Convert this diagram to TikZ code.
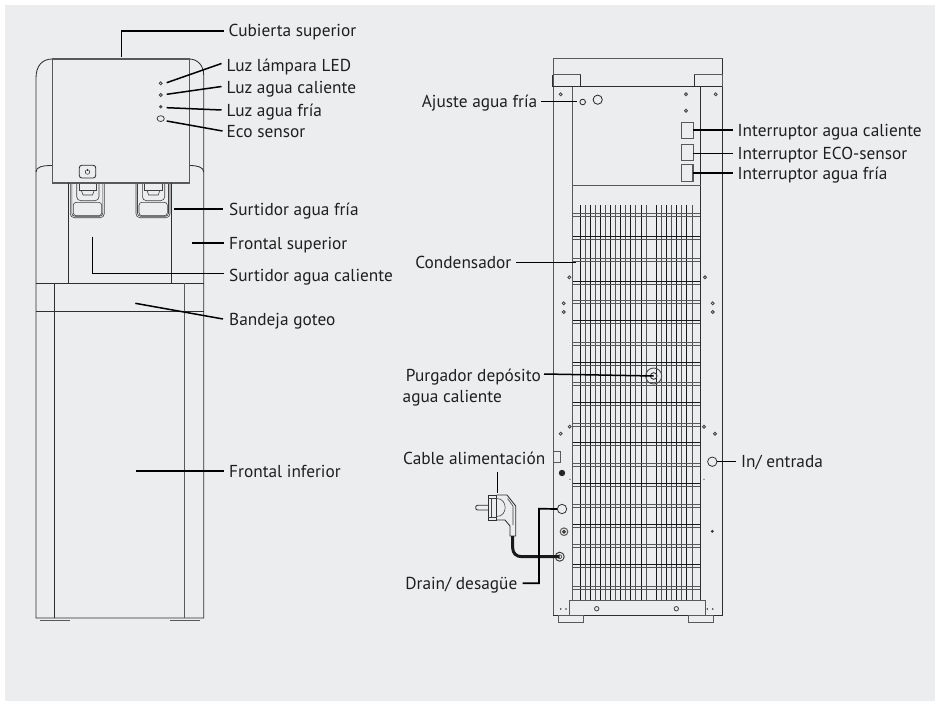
\documentclass[tikz,border=0pt]{standalone}
\usepackage{fontspec}
\setmainfont{PT Sans}
\definecolor{bg}{RGB}{236,237,239}
\tikzset{
  ln/.style={draw=black!82,line width=0.85pt},
  thin ln/.style={draw=black!75,line width=0.6pt},
  gl/.style={draw=black!65,line width=1pt},
  leader/.style={draw=black,line width=1.5pt},
  captxt/.style={inner sep=0pt,font=\fontsize{17.3}{20}\selectfont,text=black!88,text height=15pt,text depth=3pt},
  capl/.style={captxt,anchor=west},
  capr/.style={captxt,anchor=east},
  screw/.style={draw=black!75,line width=0.8pt},
  dot/.style={fill=black!80,draw=none}
}
\newcommand{\spoutpart}{%
  \draw[thin ln,rounded corners=4pt] (70.3,183)--(70.3,217.7)--(104.3,217.7)--(104.3,183);
  \draw[thin ln,rounded corners=3pt] (71.8,183)--(71.8,216.2)--(102.8,216.2)--(102.8,183);
  \draw[thin ln,rounded corners=3pt] (73.3,202.3) rectangle (101.7,215.7);
  \draw[thin ln,rounded corners=4pt] (76.7,183)--(76.7,200.7)--(99,200.7)--(99,183);
  \draw[thin ln] (79,183)--(79,190)--(96.7,190)--(96.7,183);
  \draw[thin ln] (81.5,191)--(83,195)--(92.5,195)--(94,191);
}
\begin{document}
\begin{tikzpicture}[x=1pt,y=-1pt]
\useasboundingbox (0,0) rectangle (940,701);
\fill[white] (0,0) rectangle (940,701);
\fill[bg] (5,5) rectangle (935,701);

% ---------- front view ----------
\draw[ln] (36,283)--(36,78) .. controls (36,66) and (42,59) .. (52.3,59);
\draw[ln] (189.3,59) .. controls (197,59) and (203.7,65) .. (203.7,75)--(203.7,618)--(36,618)--(36,283);
\draw[ln] (36,172) .. controls (36,167) and (42,165.5) .. (52.3,165.5);
\draw[ln] (189.3,165.5) .. controls (197,165.5) and (203.7,167) .. (203.7,172);
\spoutpart
\begin{scope}[xshift=65.7pt]\spoutpart\end{scope}
\draw[gl,fill=bg,line width=1.1pt] (52.3,59) rectangle (189.3,183);
\draw[ln] (68.7,183)--(68.7,283) (171.3,183)--(171.3,283);
\draw[ln] (36,283)--(203.7,283) (36,311.3)--(203.7,311.3);
\draw[ln] (54.3,283)--(54.3,618);
\draw[gl] (184.7,283)--(184.7,618);
\draw[gl,line width=1.2pt] (40,620.3)--(70,620.3) (169.5,620.3)--(199.5,620.3);
\draw[ln,rounded corners=2.5pt] (79.3,165.3) rectangle (95.7,178);
\draw[ln,line width=0.5pt] (87.5,172) circle (2.3);
\draw[ln,line width=0.5pt] (87.5,168.5)--(87.5,171);
\draw[screw] (160.7,83.3) circle (1.5) (160.7,95) circle (1.5);
\fill[black!70] (160.7,106.8) circle (1.9);
\draw[screw] (160.7,118.6) ellipse (3.6 and 2.9);

\coordinate (a1) at (121.3,56.7);
\coordinate (a1b) at (121.3,31);
\coordinate (a2) at (166.7,82.7);
\coordinate (a3) at (166.7,94.3);
\coordinate (a4) at (166.7,107.7);
\coordinate (a5) at (166.7,121);
\coordinate (a6) at (174,209);
\coordinate (a7) at (191.7,243);
\coordinate (a8) at (92.3,236.7);
\coordinate (a8b) at (92.3,273.3);
\coordinate (a9) at (135.3,303.3);
\coordinate (a10) at (136,471);

\node[capl] (cubierta) at (228.5,31) {Cubierta superior};
\node[capl] (led) at (226.5,65.5) {Luz lámpara LED};
\node[capl] (lcal) at (226.5,87.5) {Luz agua caliente};
\node[capl] (lfria) at (226.5,110) {Luz agua fría};
\node[capl] (eco) at (226.5,131) {Eco sensor};
\node[capl] (sfria) at (229,209) {Surtidor agua fría};
\node[capl] (fsup) at (229,243) {Frontal superior};
\node[capl] (scal) at (229,275) {Surtidor agua caliente};
\node[capl] (bandeja) at (229,319) {Bandeja goteo};
\node[capl] (finf) at (229,471) {Frontal inferior};

\draw[leader] (a1)--(a1b)--([xshift=-5pt]cubierta.west);
\draw[leader] (a2)--([xshift=-5pt,yshift=2pt]led.west);
\draw[leader] (a3)--([xshift=-5pt,yshift=1pt]lcal.west);
\draw[leader] (a4)--([xshift=-5pt]lfria.west);
\draw[leader] (a5)--([xshift=-4pt]eco.west);
\draw[leader] (a6)--([xshift=-6pt]sfria.west);
\draw[leader] (a7)--([xshift=-5pt]fsup.west);
\draw[leader] (a8)--(a8b)--(224,273.3);
\draw[leader] (a9)--([xshift=-6pt]bandeja.west);
\draw[leader] (a10)--([xshift=-5pt]finf.west);

% ---------- rear view ----------
\foreach \x [count=\i] in {580.3,585.3,590.3,595.3,600.3,605.7,610.7,615.7,620.7,625.7,630.7,635.7,641.3,646.3,656.3,661.3,666.3,671.3,676.3,681.3,686.3,692.3}{
  \ifodd\i \draw[draw=black!90,line width=1pt] (\x,205)--(\x,600.7);
  \else \draw[draw=black!68,line width=1.4pt] (\x,205)--(\x,600.7); \fi
}
\foreach \y [count=\i] in {215,237.5,260,282.5,302,322,344,364,384,404.3,425,444.3,465,485,505.7,525.7,545.7,565.7,588.3}{
  \ifodd\i
    \draw[draw=black!65,line width=1.1pt] (572.7,\y-1.5)--(700.5,\y-1.5) (572.7,\y+1.5)--(700.5,\y+1.5);
  \else
    \draw[draw=black!90,line width=0.9pt] (572.7,\y-1.5)--(700.5,\y-1.5);
    \draw[draw=black!68,line width=1pt] (572.7,\y+1.5)--(700.5,\y+1.5);
  \fi
}
\draw[gl] (553,615.3)--(553,59)--(722.7,59);
\draw[ln] (722.7,59)--(722.7,615.3)--(553,615.3);
\draw[gl] (572.7,86.7)--(572.7,600.7);
\draw[ln] (700.5,86.7)--(700.5,600.7);
\draw[ln,line width=1.1pt] (553,86.7)--(722.7,86.7);
\draw[gl] (572.7,185)--(700.5,185);
\draw[ln] (552.7,86.7)--(552.7,74.7);
\draw[gl] (552.7,74.7)--(580.7,74.7);
\draw[ln] (580.7,74.7)--(580.7,86.7);
\draw[ln] (694.3,86.7)--(694.3,74.7);
\draw[gl] (694.3,74.7)--(722.4,74.7)--(722.4,86.7);
\fill[bg] (570,601) rectangle (705,615);
\draw[gl] (569.3,615.3)--(569.3,600.7)--(705,600.7)--(705,615.3);
\draw[gl] (558.3,615.3) rectangle (583.3,622.7) (688.3,615.3) rectangle (713.3,622.7);

\draw[gl] (681.3,122) rectangle (693,138.3);
\draw[gl] (681.3,144.7) rectangle (693,160.7);
\draw[gl,line width=1.2pt] (681.3,164.7) rectangle (693,181.3);
\foreach \p in {(560.7,94.3),(715.7,94.3),(686,94.3),(686,110.7),(569.3,277.3),(705,277.3),(563.7,303.3),(563.7,312),(712.7,303.3),(712.7,312),(569.7,426.7),(560.7,433.7),(704,426.7),(715,433.7)}
  \draw[screw] \p circle (1.5);
\draw[ln] (582.7,102) circle (2.8) (597.7,99.7) circle (4.6);
\draw[gl] (553.3,451) rectangle (560.3,462.3);
\fill[black!85] (562,473) circle (3.2);
\fill[dot] (570,479.3) circle (0.6) (704,479.3) circle (0.6);
\fill[dot] (712.3,531.3) circle (1.6);
\fill[dot] (560.7,609) circle (0.9) (566,609) circle (0.9) (707.3,609) circle (0.9) (712.7,609) circle (0.9);
\draw[screw] (596.7,608.7) circle (2.2) (676.3,608.7) circle (2.2);
\draw[gl] (564,531.7) circle (3.8);
\draw[ln,line width=1pt] (564,531.7) circle (1.4);

% circles named as connector targets
\node[draw=black!80,line width=0.8pt,circle,minimum size=9.4pt,inner sep=0pt,fill=bg] (cdrain) at (562,509) {};
\node[draw=black!80,line width=0.8pt,circle,minimum size=9.4pt,inner sep=0pt,fill=bg] (cin) at (712.3,461.7) {};
\node[draw=black!70,line width=0.9pt,circle,minimum size=16pt,inner sep=0pt] (cpurga) at (653.7,376) {};
\draw[ln] (653.7,376) circle (3.3);

% plug
\draw[ln,rounded corners=2pt,fill=bg] (488.3,505.3)--(475.7,505.3)--(475.7,510)--(488.3,510);
\draw[ln] (488.3,495) rectangle (496.7,520);
\draw[thin ln] (488.3,498)--(496.7,498) (488.3,517)--(496.7,517);
\draw[thin ln] (491,498)--(491,517);
\draw[ln] (496.7,495)--(507,495)--(515.7,506)--(515.7,536)--(510,536)--(510,526)--(505,520)--(496.7,520);
\draw[thin ln] (507.5,498.5)--(513,506)--(513,525);
\draw[thin ln] (496.7,498.5) .. controls (508,498.5) and (508,516.5) .. (496.7,516.5);
\coordinate (plugtail) at (512.7,536);
\coordinate (plugtop) at (497.3,492.7);
\node[draw=black!80,line width=0.9pt,circle,minimum size=9pt,inner sep=0pt] (csock) at (559.7,556.7) {};
\draw[draw=black!80,line width=0.6pt] (559.7,556.7) circle (2);
\draw[draw=black!90,line width=3pt] (plugtail)--(512.7,548) .. controls (512.7,553) and (516,556.7) .. (522,556.7)--(csock.center);

\coordinate (b1) at (576.7,101.7);
\coordinate (b2) at (693,130);
\coordinate (b3) at (693,153.7);
\coordinate (b4) at (693,173);
\coordinate (b5) at (575.7,262.3);
\coordinate (b8) at (539,508.7);
\coordinate (b8b) at (539,583.3);

\node[capr] (ajuste) at (537.5,101.7) {Ajuste agua fría};
\node[capl] (icali) at (737.5,130) {Interruptor agua caliente};
\node[capl] (ieco) at (737.5,153.7) {Interruptor ECO-sensor};
\node[capl] (ifria) at (737.5,173) {Interruptor agua fría};
\node[capr] (conden) at (511.5,262.3) {Condensador};
\node[capr] (purga) at (541,375) {Purgador depósito};
\node[capl] (purga2) at (402.5,396) {agua caliente};
\node[capl] (inen) at (741,461.7) {In/ entrada};
\node[capr] (cable) at (545.5,458) {Cable alimentación};
\node[capr] (drain) at (517.5,583.3) {Drain/ desagüe};

\draw[leader] ([xshift=3.5pt]ajuste.east)--(b1);
\draw[leader] (b2)--([xshift=-5pt]icali.west);
\draw[leader] (b3)--([xshift=-5pt]ieco.west);
\draw[leader] (b4)--([xshift=-5pt]ifria.west);
\draw[leader] ([xshift=4.5pt]conden.east)--(b5);
\draw[leader] ([xshift=3pt,yshift=1pt]purga.east)--(cpurga.center);
\draw[leader] (cin.east)--([xshift=-5pt]inen.west);
\draw[leader,line width=1.7pt] (cdrain.west)--(b8)--(b8b)--([xshift=5pt]drain.east);
\draw[leader] (plugtop)--(497.3,472);
\end{tikzpicture}
\end{document}
